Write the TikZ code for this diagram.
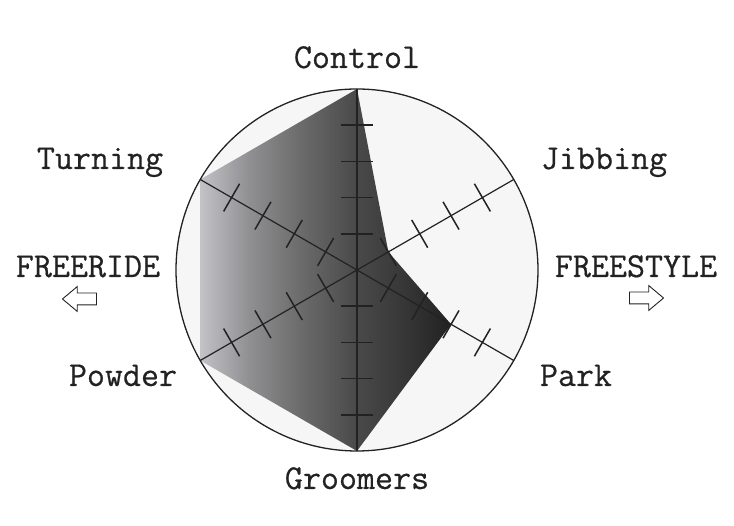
\documentclass[tikz,border=0pt]{standalone}
\usepackage{fontspec}
\usepackage{xcolor}
\usetikzlibrary{shapes.arrows,positioning}

\newfontfamily\skillfont{Latin Modern Mono}[FakeBold=0.5]

\definecolor{discfill}{RGB}{246,246,246}
\definecolor{inkgray}{RGB}{34,34,34}

% grey ramp of the skill area, left (light) to right (dark)
\pgfdeclarehorizontalshading{skillramp}{100bp}{
    rgb(0bp)=(0.76,0.76,0.78); rgb(25bp)=(0.76,0.76,0.78);
    rgb(35bp)=(0.56,0.56,0.57); rgb(45bp)=(0.42,0.42,0.42);
    rgb(56bp)=(0.29,0.29,0.29); rgb(65bp)=(0.22,0.22,0.22);
    rgb(75bp)=(0.13,0.13,0.13); rgb(100bp)=(0.13,0.13,0.13)}

\begin{document}
\begin{tikzpicture}[x=1pt,y=1pt,
        axis line/.style={line width=1.2pt,color=inkgray},
        tick mark/.style={line width=1.5pt,color=inkgray},
        rim/.style={line width=1.3pt,color=inkgray},
        skill/.style={anchor=base,inner sep=0pt,text=inkgray,font=\fontsize{35}{40}\selectfont\skillfont},
        side arrow/.style={single arrow,draw=inkgray,fill=white,line width=0.9pt,
                           minimum height=34pt,inner sep=5.5pt,
                           single arrow head extend=6.5pt,single arrow tip angle=80}]

        \useasboundingbox (-357,-256) rectangle (377,270);

        % axis ends
        \coordinate (c) at (0,0);
        \coordinate (ctl) at (90:181);
        \coordinate (jib) at (30:181);
        \coordinate (park) at (-30:181);
        \coordinate (groom) at (-90:181);
        \coordinate (pow) at (210:181);
        \coordinate (turn) at (150:181);

        % values
        \coordinate (jibv) at (30:36.2);
        \coordinate (parkv) at (-30:108.6);

        \fill[discfill] (c) circle (181);

        \shade[shading=skillramp]
            (ctl) -- (jibv) -- (parkv) -- (groom) -- (pow) -- (turn) -- cycle;

        \draw[axis line] (ctl) -- (groom);
        \draw[axis line] (jib) -- (pow);
        \draw[axis line] (turn) -- (park);

        \foreach \a in {90,30,-30}
            \foreach \k in {-4,-3,-2,-1,1,2,3,4}
                \draw[tick mark,rotate=\a] (\k*36.2,-16) -- (\k*36.2,16);

        \draw[rim] (c) circle (181);

        \node[skill] (control) at (0,202) {Control};
        \node[skill] (groomers) at (0,-219) {Groomers};
        \node[skill] (turning) at (-257,101) {Turning};
        \node[skill] (jibbing) at (247,101) {Jibbing};
        \node[skill] (powder) at (-234,-116) {Powder};
        \node[skill] (parkl) at (219,-116) {Park};
        \node[skill] (freeride) at (-269,-7) {FREERIDE};
        \node[skill] (freestyle) at (279,-7) {FREESTYLE};

        \node[side arrow,shape border rotate=180] (leftarr) at (-274,-29) {};
        \node[side arrow] (rightarr) at (286,-28) {};
\end{tikzpicture}
\end{document}
